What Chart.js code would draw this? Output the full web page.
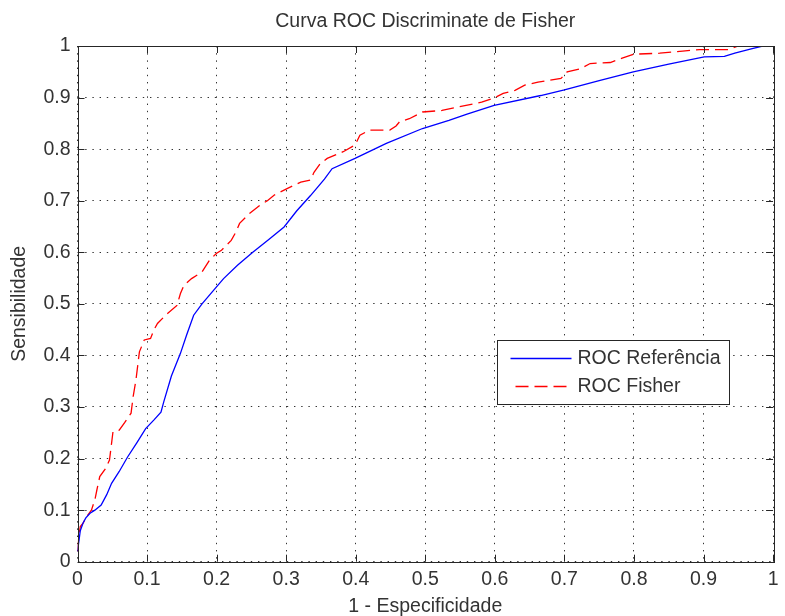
<!DOCTYPE html>
<html>
<head>
<meta charset="utf-8">
<title>Curva ROC Discriminate de Fisher</title>
<script src="https://cdn.jsdelivr.net/npm/chart.js@4/dist/chart.umd.min.js"></script>
<style>
  html, body { margin: 0; padding: 0; background: #fff; }
  canvas { display: block; }
</style>
</head>
<body>
<canvas id="roc-chart" width="785" height="616"></canvas>
<script>
// data
const titleText = "Curva ROC Discriminate de Fisher";
const xLabel = "1 - Especificidade";
const yLabel = "Sensibilidade";
const tickLabels = ["0", "0.1", "0.2", "0.3", "0.4", "0.5", "0.6", "0.7", "0.8", "0.9", "1"];
const seriesNames = ["ROC Referência", "ROC Fisher"];

const refX = [0, 0.002, 0.004, 0.008, 0.012, 0.018, 0.025, 0.034, 0.042, 0.049, 0.06, 0.072, 0.085, 0.098,
  0.11, 0.12, 0.124, 0.135, 0.148, 0.157, 0.167, 0.179, 0.198, 0.21, 0.23, 0.252, 0.275, 0.297, 0.315,
  0.335, 0.355, 0.366, 0.399, 0.444, 0.496, 0.534, 0.56, 0.599, 0.666, 0.7, 0.75, 0.799, 0.85, 0.901,
  0.93, 0.945, 0.97, 0.985, 1];
const refY = [0.02, 0.04, 0.06, 0.075, 0.085, 0.094, 0.1, 0.11, 0.13, 0.152, 0.175, 0.203, 0.23, 0.258,
  0.275, 0.29, 0.31, 0.36, 0.404, 0.44, 0.478, 0.5, 0.53, 0.549, 0.575, 0.6, 0.625, 0.649, 0.68,
  0.71, 0.742, 0.762, 0.782, 0.811, 0.84, 0.856, 0.868, 0.885, 0.904, 0.915, 0.933, 0.95, 0.965, 0.979,
  0.98, 0.986, 0.995, 1, 1];

const fisherX = [0, 0.002, 0.004, 0.008, 0.013, 0.02, 0.025, 0.028, 0.032, 0.04, 0.046, 0.049, 0.051, 0.06,
  0.068, 0.077, 0.08, 0.084, 0.089, 0.096, 0.105, 0.11, 0.115, 0.129, 0.143, 0.148, 0.153, 0.164, 0.179,
  0.19, 0.2, 0.207, 0.221, 0.228, 0.233, 0.247, 0.262, 0.273, 0.283, 0.302, 0.321, 0.335, 0.34, 0.349,
  0.359, 0.382, 0.399, 0.406, 0.42, 0.449, 0.458, 0.463, 0.477, 0.496, 0.524, 0.548, 0.581, 0.6, 0.612,
  0.629, 0.643, 0.662, 0.695, 0.704, 0.723, 0.737, 0.766, 0.782, 0.799, 0.837, 0.87, 0.894, 0.936, 0.95, 1];
const fisherY = [0.02, 0.05, 0.068, 0.075, 0.087, 0.1, 0.12, 0.14, 0.165, 0.18, 0.197, 0.23, 0.252, 0.255,
  0.27, 0.288, 0.32, 0.352, 0.407, 0.43, 0.433, 0.45, 0.462, 0.481, 0.497, 0.52, 0.536, 0.549, 0.562,
  0.585, 0.598, 0.604, 0.623, 0.64, 0.656, 0.675, 0.691, 0.7, 0.711, 0.724, 0.736, 0.74, 0.755, 0.772,
  0.782, 0.795, 0.808, 0.827, 0.837, 0.837, 0.845, 0.853, 0.859, 0.872, 0.875, 0.882, 0.891, 0.9, 0.908,
  0.914, 0.924, 0.93, 0.937, 0.95, 0.956, 0.966, 0.968, 0.976, 0.984, 0.986, 0.99, 0.993, 0.993, 1, 1];

const toPoints = (xs, ys) => xs.map((x, i) => ({ x: x, y: ys[i] }));

const FONT = "'Liberation Sans', Arial, Helvetica, sans-serif";
const TEXT_COLOR = "#333";
const AXIS_COLOR = "#262626";

// matlab style frame: title, box, inward ticks and legend
const matlabFrame = {
  id: "matlabFrame",
  afterDatasetsDraw(chart) {
    const { ctx, chartArea: a, scales } = chart;
    const tickLen = 7;
    ctx.save();
    ctx.strokeStyle = AXIS_COLOR;
    ctx.lineWidth = 1;
    ctx.setLineDash([]);

    ctx.beginPath();
    scales.x.ticks.forEach((t) => {
      const px = Math.round(scales.x.getPixelForValue(t.value)) + 0.5;
      ctx.moveTo(px, a.bottom); ctx.lineTo(px, a.bottom - tickLen);
      ctx.moveTo(px, a.top); ctx.lineTo(px, a.top + tickLen);
    });
    scales.y.ticks.forEach((t) => {
      const py = Math.round(scales.y.getPixelForValue(t.value)) + 0.5;
      ctx.moveTo(a.left, py); ctx.lineTo(a.left + tickLen, py);
      ctx.moveTo(a.right, py); ctx.lineTo(a.right - tickLen, py);
    });
    ctx.stroke();

    ctx.strokeRect(Math.round(a.left) + 0.5, Math.round(a.top) + 0.5,
      Math.round(a.right - a.left), Math.round(a.bottom - a.top));

    // title
    ctx.fillStyle = TEXT_COLOR;
    ctx.font = "19.5px " + FONT;
    ctx.textAlign = "center";
    ctx.textBaseline = "middle";
    ctx.fillText(titleText, (a.left + a.right) / 2, 22);

    // legend
    const box = { x: 497.5, y: 340.5, w: 232, h: 64 };
    ctx.fillStyle = "#fff";
    ctx.fillRect(box.x, box.y, box.w, box.h);
    ctx.strokeStyle = AXIS_COLOR;
    ctx.strokeRect(box.x, box.y, box.w, box.h);
    chart.data.datasets.forEach((ds, i) => {
      const y = box.y + 18 + i * 28;
      ctx.save();
      ctx.strokeStyle = ds.borderColor;
      ctx.lineWidth = ds.borderWidth;
      ctx.setLineDash(ds.borderDash || []);
      ctx.lineDashOffset = i === 1 ? -5 : 0;
      ctx.beginPath();
      ctx.moveTo(box.x + 13, y);
      ctx.lineTo(box.x + 74, y);
      ctx.stroke();
      ctx.restore();
      ctx.fillStyle = TEXT_COLOR;
      ctx.textAlign = "left";
      ctx.textBaseline = "middle";
      ctx.fillText(ds.label, box.x + 80, y);
    });
    ctx.restore();
  },
};

const gridOpts = {
  color: "#333",
  lineWidth: 1,
  drawTicks: false,
};

new Chart(document.getElementById("roc-chart"), {
  type: "line",
  data: {
    datasets: [
      {
        label: seriesNames[0],
        data: toPoints(refX, refY),
        borderColor: "#0000ff",
        borderWidth: 1.3,
        pointRadius: 0,
        tension: 0,
      },
      {
        label: seriesNames[1],
        data: toPoints(fisherX, fisherY),
        borderColor: "#ff0000",
        borderWidth: 1.3,
        borderDash: [13, 6],
        pointRadius: 0,
        tension: 0,
      },
    ],
  },
  options: {
    responsive: false,
    animation: false,
    devicePixelRatio: 1,
    layout: { padding: { top: 46, right: 4, left: 0, bottom: 0 } },
    plugins: {
      legend: { display: false },
      title: { display: false },
      tooltip: { enabled: false },
    },
    scales: {
      x: {
        type: "linear",
        min: 0,
        max: 1,
        grid: gridOpts,
        border: { display: false, dash: [1.4, 5.8] },
        ticks: {
          stepSize: 0.1,
          autoSkip: false,
          maxRotation: 0,
          padding: 6.5,
          color: TEXT_COLOR,
          font: { family: FONT, size: 19.5 },
          callback: (v, i) => tickLabels[i],
        },
        title: {
          display: true,
          text: xLabel,
          color: TEXT_COLOR,
          font: { family: FONT, size: 19.5 },
          padding: { top: 0, bottom: -2 },
        },
        afterFit: (scale) => { scale.height = 54.3; },
      },
      y: {
        type: "linear",
        min: 0,
        max: 1,
        grid: gridOpts,
        border: { display: false, dash: [1.4, 5.8] },
        ticks: {
          stepSize: 0.1,
          autoSkip: false,
          padding: 7,
          color: TEXT_COLOR,
          font: { family: FONT, size: 19.5 },
          callback: (v, i) => tickLabels[i],
        },
        title: {
          display: true,
          text: yLabel,
          color: TEXT_COLOR,
          font: { family: FONT, size: 19.5 },
          padding: { top: 8, bottom: 0 },
        },
        afterFit: (scale) => { scale.width = 77.5; },
      },
    },
  },
  plugins: [matlabFrame],
});
</script>
</body>
</html>
